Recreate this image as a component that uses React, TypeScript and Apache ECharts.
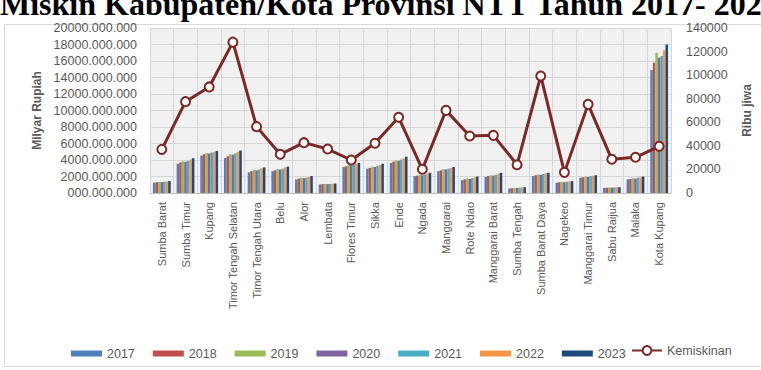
import React, { useEffect, useRef } from 'react';
import * as echarts from 'echarts';

const categories = [
  'Sumba Barat', 'Sumba Timur', 'Kupang', 'Timor Tengah Selatan', 'Timor Tengah Utara',
  'Belu', 'Alor', 'Lembata', 'Flores Timur', 'Sikka', 'Ende', 'Ngada', 'Manggarai',
  'Rote Ndao', 'Manggarai Barat', 'Sumba Tengah', 'Sumba Barat Daya', 'Nagekeo',
  'Manggarai Timur', 'Sabu Raijua', 'Malaka', 'Kota Kupang',
];

const years = ['2017', '2018', '2019', '2020', '2021', '2022', '2023'];

const v2017 = [1250, 3550, 4550, 4250, 2500, 2650, 1650, 1030, 3150, 2950, 3650, 2050, 2650, 1550, 1950, 550, 2050, 1250, 1850, 620, 1650, 14900];
const v2018 = [1300, 3700, 4700, 4450, 2650, 2750, 1750, 1070, 3250, 3050, 3800, 2100, 2750, 1650, 2050, 580, 2150, 1300, 1900, 640, 1700, 15800];
const v2019 = [1320, 3850, 4850, 4700, 2800, 2900, 1850, 1100, 3400, 3200, 3950, 2200, 2900, 1750, 2150, 620, 2250, 1350, 2000, 660, 1800, 17000];
const v2020 = [1310, 3800, 4800, 4650, 2750, 2850, 1800, 1080, 3350, 3150, 3900, 2150, 2850, 1700, 2100, 600, 2200, 1320, 1950, 650, 1750, 16400];
const v2021 = [1350, 3900, 4900, 4800, 2850, 2950, 1850, 1100, 3450, 3300, 4050, 2250, 2950, 1800, 2200, 640, 2300, 1360, 2050, 670, 1850, 16600];
const v2022 = [1400, 4050, 5000, 5000, 3000, 3100, 1950, 1130, 3550, 3400, 4200, 2350, 3050, 1900, 2350, 670, 2400, 1400, 2100, 690, 1900, 17300];
const v2023 = [1450, 4200, 5100, 5150, 3100, 3200, 2050, 1150, 3650, 3550, 4400, 2450, 3150, 2000, 2450, 700, 2450, 1430, 2150, 700, 2000, 18000];

const kemiskinan = [37000, 77500, 90000, 128000, 56300, 32800, 42700, 37300, 28000, 42200, 64200, 20100, 70100, 48400, 48900, 24000, 99300, 17500, 75200, 28600, 30300, 39600];

const barColors = ['#4F81BD', '#C0504D', '#9BBB59', '#8064A2', '#4BACC6', '#F79646', '#1F497D'];
const barData = [v2017, v2018, v2019, v2020, v2021, v2022, v2023];

const titleText = 'Miskin Kabupaten/Kota Provinsi NTT Tahun 2017- 2023';

export default function App() {
  const ref = useRef<HTMLDivElement>(null);
  useEffect(() => {
    if (!ref.current) return;
    const chart = echarts.init(ref.current, null, { renderer: 'svg' });
    const axisFont = '"Liberation Sans", Arial, sans-serif';
    const series: any[] = years.map((y, i) => ({
      name: y,
      type: 'bar',
      data: barData[i],
      itemStyle: { color: barColors[i] },
      barGap: '0%',
      barCategoryGap: '25%',
      yAxisIndex: 0,
    }));
    series.push({
      name: 'Kemiskinan',
      type: 'line',
      yAxisIndex: 1,
      data: kemiskinan,
      symbol: 'circle',
      symbolSize: 9,
      z: 5,
      lineStyle: { color: '#7A2828', width: 3 },
      itemStyle: { color: '#FFFFFF', borderColor: '#7A2828', borderWidth: 2 },
    });
    chart.setOption({
      animation: false,
      backgroundColor: '#FFFFFF',
      textStyle: { fontFamily: axisFont },
      grid: {
        left: 150, right: 86, top: 28, bottom: 177,
        show: true,
        borderWidth: 0,
        backgroundColor: '#F1F1F1',
      },
      legend: [
        {
          data: years,
          left: 66, top: 342,
          itemWidth: 31, itemHeight: 6, itemGap: 18,
          icon: 'rect',
          textStyle: { color: '#595959', fontSize: 12.5, fontFamily: axisFont },
        },
        {
          data: ['Kemiskinan'],
          left: 626, top: 339,
          itemWidth: 30, itemHeight: 11, itemGap: 2,
          textStyle: { color: '#595959', fontSize: 12.5, fontFamily: axisFont },
        },
      ],
      xAxis: {
        type: 'category',
        data: categories,
        axisLine: { lineStyle: { color: '#BFBFBF' } },
        axisTick: { show: false },
        splitLine: { show: true, interval: 0, lineStyle: { color: '#D6D6D6' } },
        axisLabel: { rotate: 90, interval: 0, color: '#595959', fontSize: 11, margin: 9, fontFamily: axisFont },
      },
      yAxis: [
        {
          type: 'value', min: 0, max: 20000, interval: 2000,
          name: 'Milyar Rupiah', nameLocation: 'middle', nameGap: 107, nameRotate: 90,
          nameTextStyle: { color: '#595959', fontWeight: 'bold', fontSize: 12, fontFamily: axisFont },
          axisLine: { show: false }, axisTick: { show: false },
          splitLine: { lineStyle: { color: '#D6D6D6' } },
          axisLabel: {
            color: '#595959', fontSize: 12.5, margin: 13, fontFamily: axisFont,
            formatter: (v: number) => `${v === 0 ? '000' : v}.000.000`,
          },
        },
        {
          type: 'value', min: 0, max: 140000, interval: 20000, position: 'right',
          name: 'Ribu jiwa', nameLocation: 'middle', nameGap: 70, nameRotate: 90,
          nameTextStyle: { color: '#595959', fontWeight: 'bold', fontSize: 12, fontFamily: axisFont },
          axisLine: { show: false }, axisTick: { show: false }, splitLine: { show: false },
          axisLabel: {
            color: '#595959', fontSize: 12.5, margin: 15, fontFamily: axisFont,
            formatter: (v: number) => String(v),
          },
        },
      ],
      graphic: [
        {
          type: 'rect', z: -1, silent: true,
          shape: { x: 4.5, y: 24.5, width: 800, height: 342 },
          style: { fill: 'none', stroke: '#D9D9D9', lineWidth: 1 },
        },
        {
          type: 'text', z: 10, silent: true,
          x: 0, y: 4,
          style: {
            text: titleText, fill: '#000000',
            font: 'bold 32px "Liberation Serif", "Times New Roman", serif',
            textVerticalAlign: 'middle', textAlign: 'left',
          },
        },
      ],
      series,
    });
    return () => chart.dispose();
  }, []);
  return <div ref={ref} style={{ position: 'fixed', left: 0, top: 0, width: 761, height: 370 }} />;
}
